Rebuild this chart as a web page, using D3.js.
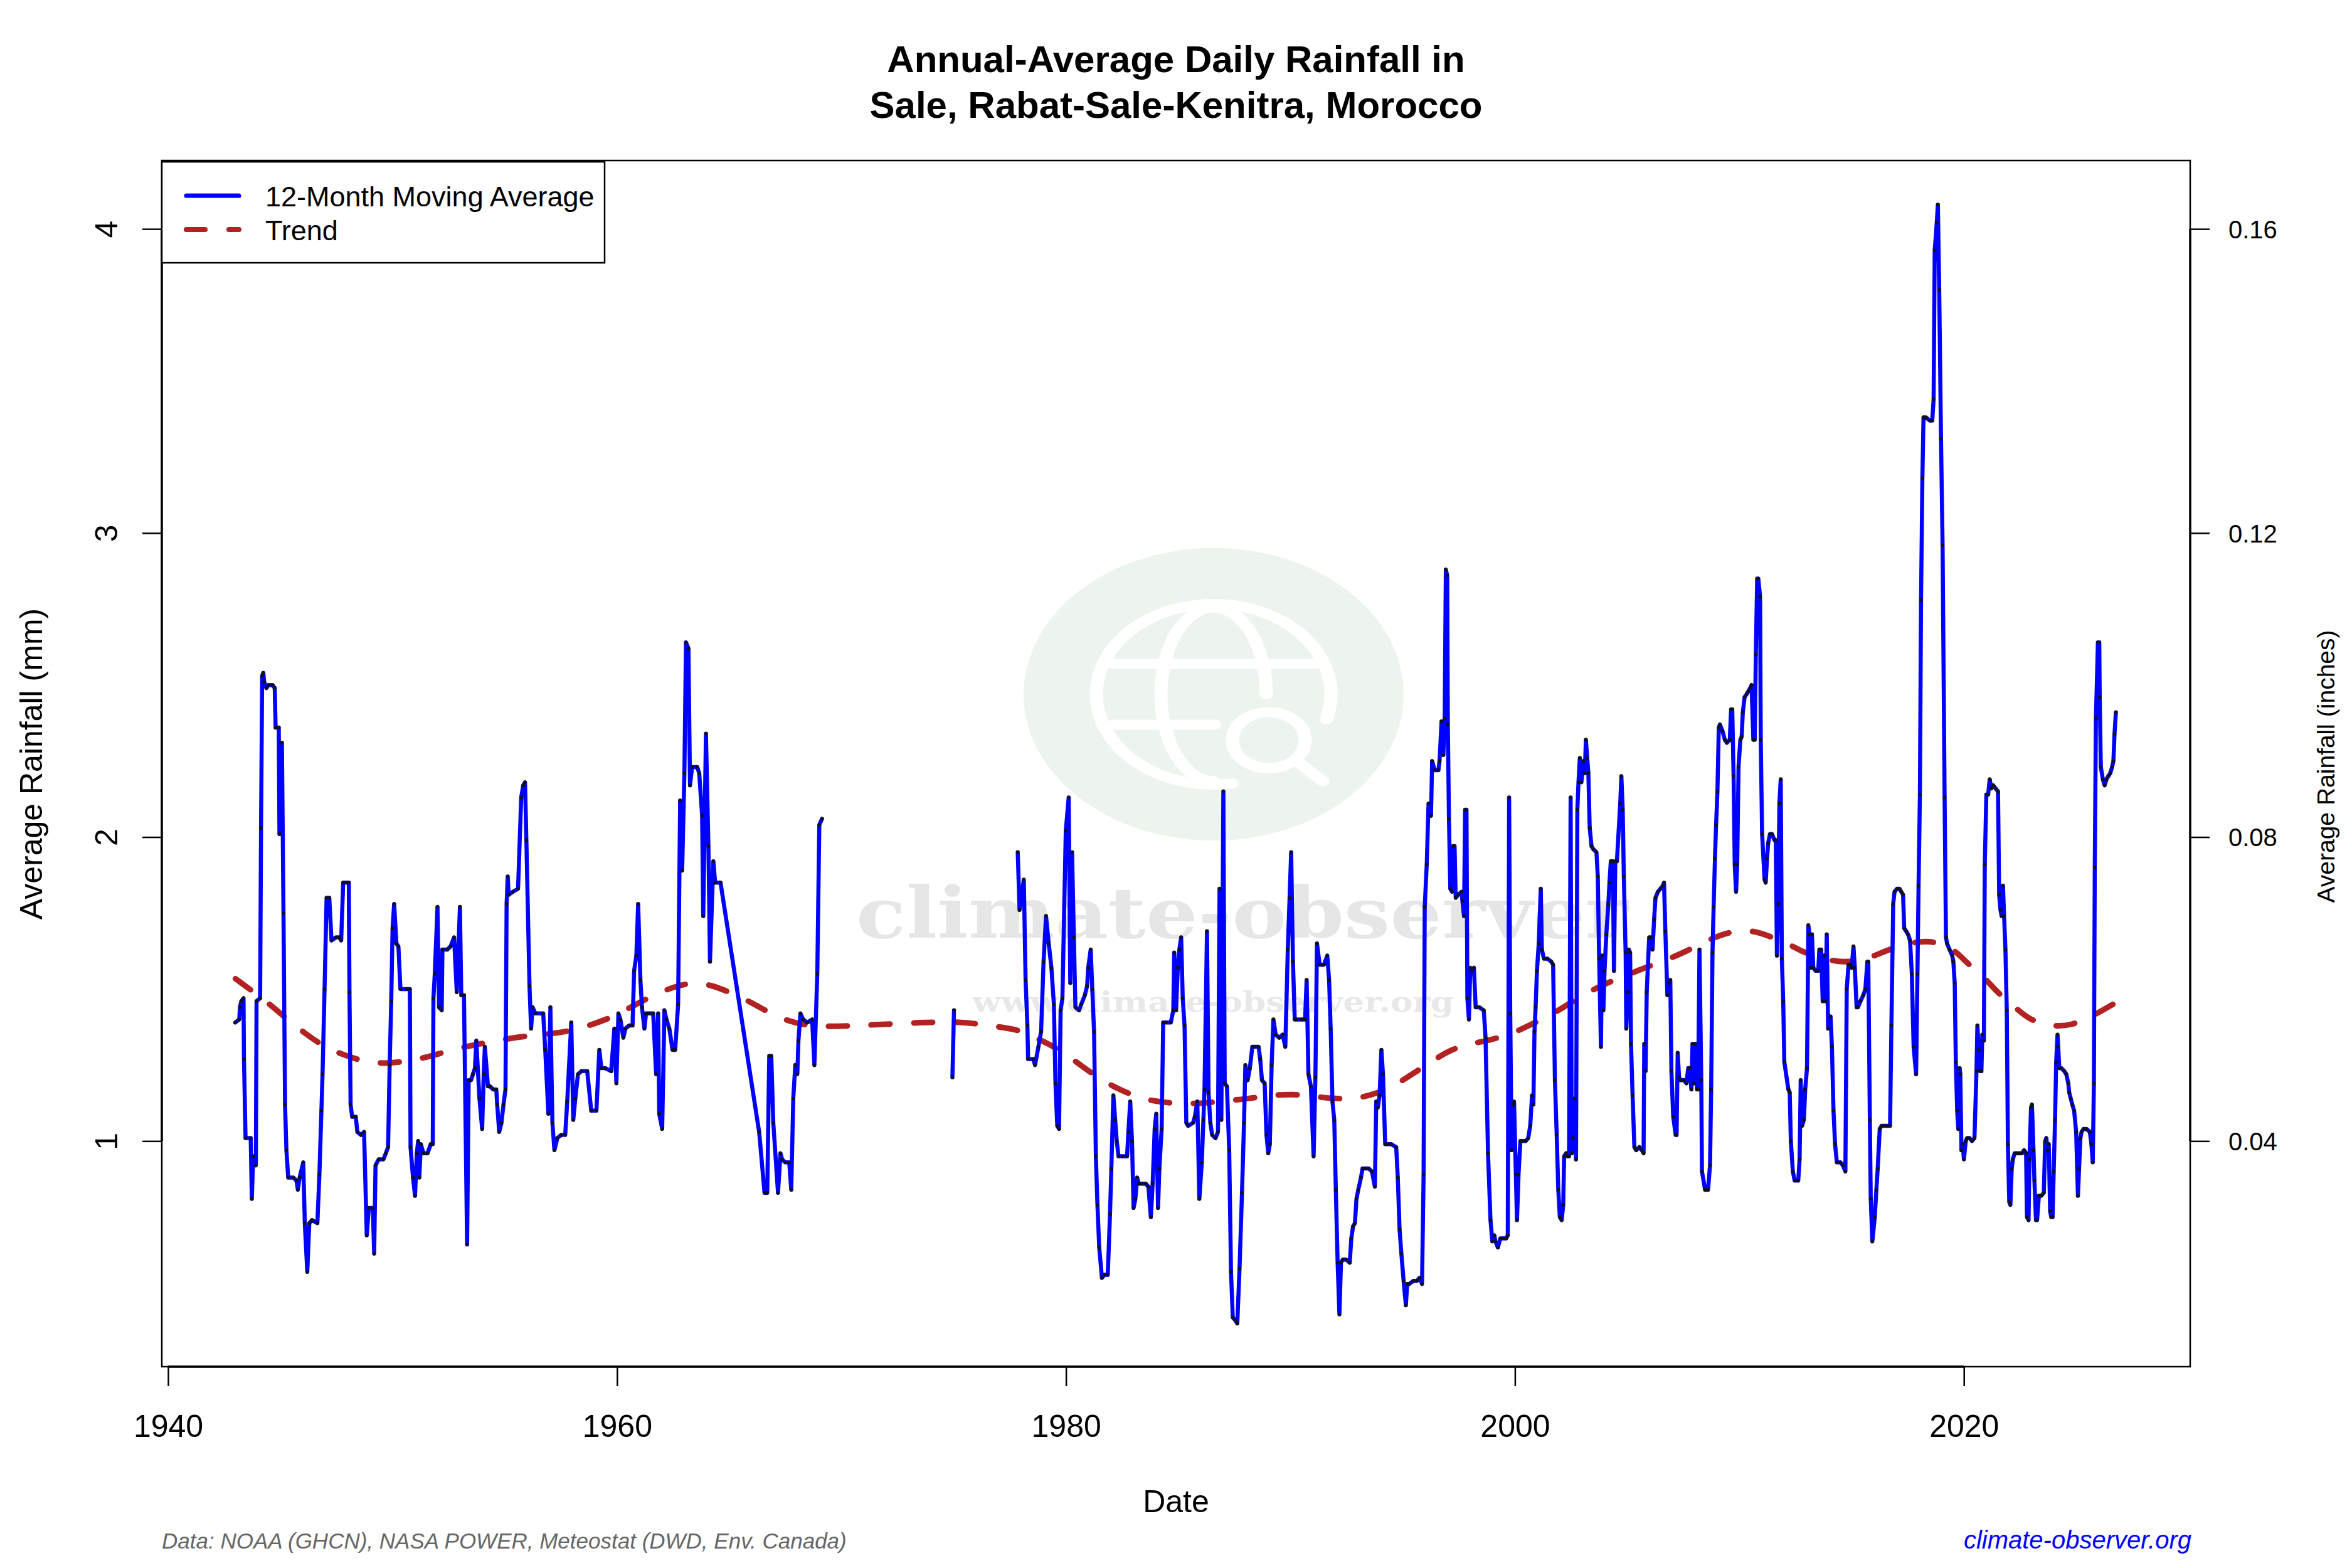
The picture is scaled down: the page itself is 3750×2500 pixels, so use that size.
<!DOCTYPE html>
<html><head><meta charset="utf-8">
<script src="https://cdn.jsdelivr.net/npm/d3@7"></script>
<style>html,body{margin:0;padding:0;background:#fff}svg{display:block}</style>
</head><body>
<svg id="chart" width="3750" height="2500"></svg>
<script>
// ---------- DATA (12-month moving average of daily rainfall, mm) ----------
const years1943 = [1942.99,1943.17,1943.20,1943.26,1943.36,1943.38,1943.45,1943.68,1943.73,1943.79,
1943.91,1943.94,1944.10,1944.14,1944.19,1944.24,1944.28,1944.38,1944.47,1944.65,
1944.75,1944.79,1944.93,1944.96,1945.02,1945.07,1945.14,1945.21,1945.27,1945.35,
1945.58,1945.72,1945.78,1945.86,1946.02,1946.09,1946.20,1946.29,1946.41,1946.65,
1946.74,1946.83,1946.88,1946.97,1947.06,1947.18,1947.28,1947.48,1947.62,1947.71,
1947.80,1947.94,1948.05,1948.08,1948.13,1948.20,1948.36,1948.43,1948.59,1948.73,
1948.85,1948.94,1949.12,1949.18,1949.24,1949.38,1949.59,1949.70,1949.80,1949.87,
1949.94,1950.00,1950.07,1950.17,1950.26,1950.35,1950.63,1950.77,1950.80,1950.91,
1951.00,1951.08,1951.14,1951.19,1951.26,1951.37,1951.56,1951.70,1951.79,1951.82,
1951.88,1952.00,1952.07,1952.19,1952.22,1952.44,1952.58,1952.74,1952.86,1953.00,
1953.06,1953.18,1953.32,1953.39,1953.49,1953.58,1953.67,1953.73,1953.87,1953.99,
1954.06,1954.11,1954.25,1954.34,1954.48,1954.62,1954.66,1954.75,1954.85,1954.94,
1955.03,1955.08,1955.13,1955.17,1955.36,1955.59,1955.73,1955.82,1955.90,1955.96,
1956.10,1956.17,1956.24,1956.36,1956.71,1956.80,1956.94,1957.03,1957.12,1957.21,
1957.34,1957.51,1957.69,1957.78,1957.96,1958.05,1958.14,1958.26,1958.41,1958.67,
1958.85,1959.08,1959.21,1959.30,1959.47,1959.74,1959.88,1959.97,1960.06,1960.15,
1960.28,1960.37,1960.54,1960.69,1960.76,1960.86,1960.94,1961.04,1961.11,1961.22,
1961.29,1961.43,1961.61,1961.74,1961.83,1961.88,1962.01,1962.11,1962.20,1962.33,
1962.47,1962.59,1962.72,1962.81,1962.90,1963.00,1963.07,1963.18,1963.25,1963.34,
1963.57,1963.66,1963.79,1963.84,1963.96,1964.07,1964.14,1964.29,1964.37,1964.61,
1966.33,1966.57,1966.69,1966.78,1966.87,1966.96,1967.17,1967.28,1967.35,1967.49,
1967.67,1967.76,1967.85,1967.94,1968.03,1968.08,1968.17,1968.29,1968.47,1968.69,
1968.79,1968.92,1969.01,1969.13];
const rain1943 = [1.39,1.40,1.44,1.46,1.47,1.27,1.01,1.01,0.81,0.95,
0.92,1.46,1.47,2.03,2.53,2.54,2.51,2.49,2.50,2.50,
2.49,2.36,2.36,2.01,2.31,2.31,1.75,1.12,0.97,0.88,
0.88,0.87,0.84,0.88,0.93,0.73,0.57,0.73,0.74,0.73,
0.89,1.10,1.22,1.50,1.80,1.80,1.66,1.67,1.67,1.66,
1.85,1.85,1.85,1.49,1.12,1.08,1.08,1.03,1.02,1.03,
0.69,0.78,0.78,0.63,0.92,0.94,0.94,0.96,0.98,1.25,
1.46,1.70,1.78,1.65,1.64,1.50,1.50,1.50,0.98,0.88,
0.82,0.96,1.00,0.88,0.99,0.96,0.96,0.99,0.99,1.47,
1.55,1.77,1.44,1.43,1.63,1.63,1.64,1.67,1.49,1.77,
1.48,1.48,0.66,1.20,1.20,1.22,1.24,1.33,1.14,1.04,
1.22,1.31,1.18,1.18,1.17,1.17,1.12,1.03,1.06,1.12,
1.17,1.78,1.87,1.81,1.82,1.83,2.13,2.17,2.18,1.99,
1.51,1.37,1.44,1.42,1.42,1.30,1.09,1.44,1.06,0.97,
1.01,1.02,1.02,1.13,1.39,1.07,1.14,1.22,1.23,1.23,
1.10,1.10,1.30,1.24,1.24,1.23,1.37,1.19,1.42,1.40,
1.34,1.37,1.38,1.38,1.56,1.61,1.78,1.53,1.44,1.37,
1.42,1.42,1.42,1.22,1.42,1.09,1.04,1.43,1.40,1.37,
1.30,1.30,1.45,2.12,1.89,2.21,2.64,2.62,2.17,2.23,
2.23,2.21,2.07,1.74,2.34,1.97,1.59,1.92,1.85,1.85,
1.03,0.83,0.83,1.28,1.28,1.06,0.83,0.96,0.94,0.93,
0.93,0.84,1.14,1.25,1.22,1.33,1.42,1.40,1.39,1.40,
1.25,1.55,2.04,2.06];

const years1975 = [1974.94,1975.01];
const rain1975 = [1.21,1.43];

const years1977 = [1977.85,1977.93,1978.12,1978.20,1978.28,1978.31,1978.54,1978.62,1978.77,1978.89,
1979.00,1979.11,1979.23,1979.35,1979.46,1979.53,1979.61,1979.69,1979.76,1979.84,
1979.99,1980.12,1980.19,1980.27,1980.35,1980.42,1980.58,1980.68,1980.84,1980.94,
1980.99,1981.10,1981.17,1981.25,1981.33,1981.40,1981.48,1981.60,1981.71,1981.86,
1981.96,1982.02,1982.11,1982.19,1982.26,1982.34,1982.52,1982.72,1982.78,1982.86,
1982.94,1983.01,1983.09,1983.17,1983.24,1983.37,1983.55,1983.67,1983.78,1983.86,
1983.95,1984.02,1984.10,1984.16,1984.26,1984.33,1984.44,1984.67,1984.78,1984.82,
1984.90,1984.98,1985.05,1985.13,1985.20,1985.28,1985.36,1985.44,1985.66,1985.74,
1985.85,1985.94,1986.05,1986.12,1986.17,1986.28,1986.35,1986.43,1986.51,1986.66,
1986.77,1986.84,1986.92,1987.01,1987.07,1987.17,1987.27,1987.35,1987.43,1987.55,
1987.63,1987.73,1987.84,1987.93,1987.99,1988.09,1988.19,1988.30,1988.42,1988.58,
1988.65,1988.73,1988.85,1988.93,1989.01,1989.08,1989.16,1989.24,1989.34,1989.50,
1989.65,1989.77,1989.88,1989.96];
const rain1977 = [1.95,1.76,1.86,1.53,1.38,1.27,1.27,1.25,1.31,1.36,
1.59,1.74,1.65,1.57,1.45,1.19,1.05,1.04,1.43,1.47,
2.02,2.13,1.52,1.95,1.67,1.44,1.43,1.45,1.48,1.51,
1.57,1.63,1.50,1.36,0.95,0.79,0.65,0.55,0.56,0.56,
0.76,0.91,1.15,1.07,1.00,0.95,0.95,0.95,1.03,1.13,
1.00,0.78,0.81,0.88,0.86,0.86,0.86,0.85,0.75,0.86,
1.04,1.09,0.78,0.91,1.04,1.39,1.39,1.39,1.43,1.62,
1.43,1.57,1.63,1.67,1.47,1.38,1.06,1.05,1.06,1.08,
1.13,0.81,0.93,1.07,1.17,1.69,1.16,1.06,1.02,1.01,
1.03,1.83,1.07,2.15,1.19,1.18,0.97,0.57,0.42,0.41,
0.40,0.58,0.83,1.06,1.25,1.20,1.24,1.31,1.31,1.31,
1.27,1.20,1.19,1.02,0.96,0.99,1.25,1.40,1.35,1.34,
1.35,1.31,1.63,1.80];

const years1990 = [1990.03,1990.11,1990.19,1990.26,1990.49,1990.65,1990.72,1990.80,1990.91,1991.03,
1991.11,1991.18,1991.30,1991.49,1991.64,1991.72,1991.79,1991.87,1991.95,1992.02,
1992.10,1992.18,1992.25,1992.33,1992.48,1992.64,1992.71,1992.79,1992.87,1992.94,
1993.02,1993.14,1993.21,1993.33,1993.48,1993.63,1993.76,1993.82,1993.89,1993.97,
1994.05,1994.12,1994.22,1994.32,1994.48,1994.71,1994.78,1994.86,1994.94,1995.04,
1995.14,1995.20,1995.29,1995.47,1995.63,1995.75,1995.86,1995.93,1995.98,1996.07,
1996.15,1996.26,1996.31,1996.42,1996.59,1996.64,1996.73,1996.81,1996.87,1996.92,
1996.98,1997.01,1997.06,1997.12,1997.20,1997.25,1997.31,1997.36,1997.47,1997.62,
1997.66,1997.73,1997.78,1997.84,1997.88,1997.95,1998.01,1998.08,1998.17,1998.25,
1998.41,1998.61,1998.69,1998.80,1998.91,1998.99,1999.08,1999.13,1999.24,1999.35,
1999.49,1999.61,1999.68,1999.74,1999.79,1999.85,1999.93,1999.96];
const rain1990 = [1.95,1.59,1.40,1.40,1.40,1.40,1.53,1.22,1.18,0.95,
1.21,1.65,1.58,1.58,1.61,1.53,1.37,1.13,1.07,0.84,
0.60,0.43,0.60,0.61,0.61,0.60,0.68,0.72,0.73,0.81,
0.84,0.88,0.91,0.91,0.91,0.90,0.85,1.13,1.11,1.15,
1.30,1.22,0.99,0.99,0.99,0.98,0.88,0.71,0.63,0.54,
0.46,0.53,0.53,0.54,0.54,0.55,0.53,0.89,1.77,1.91,
2.11,2.07,2.25,2.22,2.22,2.25,2.38,2.27,2.39,2.88,
2.86,2.37,2.06,1.83,1.82,1.97,1.97,1.80,1.81,1.82,
1.79,1.74,2.09,2.09,1.47,1.40,1.57,1.56,1.57,1.44,
1.44,1.43,1.34,0.96,0.74,0.67,0.69,0.67,0.65,0.68,
0.68,0.68,0.69,2.13,1.42,0.97,1.12,1.13];

const years2000 = [2000.04,2000.09,2000.16,2000.24,2000.35,2000.48,2000.59,2000.68,2000.76,2000.82,
2000.87,2000.92,2000.98,2001.06,2001.15,2001.20,2001.29,2001.45,2001.62,2001.70,
2001.78,2001.86,2001.93,2002.00,2002.08,2002.15,2002.19,2002.28,2002.33,2002.41,
2002.48,2002.53,2002.59,2002.66,2002.72,2002.78,2002.83,2002.89,2002.96,2003.05,
2003.11,2003.16,2003.22,2003.27,2003.33,2003.41,2003.49,2003.63,2003.69,2003.75,
2003.83,2003.88,2003.94,2003.99,2004.07,2004.16,2004.21,2004.27,2004.36,2004.41,
2004.47,2004.54,2004.69,2004.74,2004.80,2004.85,2004.93,2004.96,2005.02,2005.07,
2005.13,2005.17,2005.24,2005.32,2005.40,2005.54,2005.65,2005.73,2005.76,2005.82,
2005.87,2005.98,2006.06,2006.13,2006.20,2006.26,2006.37,2006.48,2006.59,2006.64,
2006.70,2006.79,2006.86,2006.92,2006.97,2007.05,2007.16,2007.20,2007.25,2007.31,
2007.38,2007.53,2007.64,2007.72,2007.78,2007.86,2007.91,2007.97,2008.03,2008.11,
2008.16,2008.22,2008.30,2008.33,2008.47,2008.60,2008.69,2008.74,2008.80,2008.85,
2008.91,2008.96,2009.02,2009.08,2009.13,2009.24,2009.35,2009.44,2009.57,2009.63,
2009.68,2009.74,2009.79,2009.85,2009.90,2009.96];
const rain2000 = [0.89,0.74,0.89,1.00,1.00,1.00,1.01,1.05,1.15,1.12,
1.36,1.44,1.56,1.65,1.83,1.63,1.60,1.60,1.59,1.58,
1.20,1.02,0.84,0.75,0.74,0.79,0.95,0.96,0.95,0.95,
2.13,0.96,1.01,1.14,0.94,2.09,2.18,2.26,2.18,2.25,
2.21,2.32,2.26,2.21,2.03,1.97,1.96,1.95,1.87,1.60,
1.31,1.61,1.43,1.56,1.68,1.78,1.85,1.92,1.92,1.56,
1.92,1.92,2.11,2.20,2.09,1.87,1.62,1.37,1.49,1.63,
1.62,1.32,1.15,0.98,0.97,0.98,0.97,0.96,1.32,1.23,
1.49,1.67,1.67,1.63,1.73,1.80,1.82,1.83,1.84,1.85,
1.69,1.48,1.52,1.53,1.23,1.08,1.02,1.02,1.29,1.21,
1.20,1.20,1.19,1.24,1.24,1.17,1.32,1.19,1.32,1.17,
1.17,1.63,1.20,0.90,0.84,0.84,0.92,1.17,1.62,1.77,
1.93,2.04,2.15,2.36,2.37,2.35,2.32,2.31,2.32,2.42,
2.42,2.20,1.91,1.82,1.91,2.23];

const years2010 = [2010.04,2010.10,2010.15,2010.23,2010.32,2010.40,2010.48,2010.54,2010.62,2010.68,
2010.73,2010.79,2010.84,2010.92,2010.95,2011.01,2011.12,2011.17,2011.23,2011.28,
2011.36,2011.45,2011.56,2011.62,2011.67,2011.73,2011.78,2011.84,2011.89,2011.95,
2012.00,2012.18,2012.24,2012.29,2012.38,2012.46,2012.62,2012.68,2012.73,2012.79,
2012.87,2012.93,2013.01,2013.07,2013.12,2013.18,2013.23,2013.29,2013.40,2013.51,
2013.56,2013.64,2013.71,2013.78,2013.84,2013.89,2013.95,2014.06,2014.12,2014.19,
2014.26,2014.34,2014.50,2014.61,2014.72,2014.78,2014.86,2014.94,2015.00,2015.08,
2015.14,2015.22,2015.28,2015.39,2015.52,2015.61,2015.70,2015.74,2015.81,2015.85,
2015.92,2016.03,2016.10,2016.16,2016.25,2016.33,2016.44,2016.60,2016.71,2016.77,
2016.85,2016.91,2017.02,2017.13,2017.21,2017.29,2017.34,2017.43,2017.51,2017.60,
2017.68,2017.76,2017.87,2017.93,2017.98,2018.04,2018.09,2018.15,2018.20,2018.31,
2018.48,2018.59,2018.65,2018.70,2018.79,2018.84,2018.90,2018.98,2019.05,2019.14,
2019.20,2019.25,2019.36,2019.48,2019.53,2019.59,2019.64,2019.70,2019.75,2019.81,
2019.84,2019.89,2019.95,2020.00,2020.08,2020.14,2020.25,2020.36,2020.47,2020.56,
2020.60,2020.66,2020.72,2020.78,2020.82,2020.89,2020.93,2021.00,2021.08,2021.15,
2021.22,2021.30,2021.41,2021.52,2021.57,2021.63,2021.68,2021.74,2021.79,2021.85,
2021.91,2021.96,2022.02,2022.07,2022.13,2022.18,2022.26,2022.35,2022.46,2022.59,
2022.68,2022.77,2022.81,2022.88,2022.92,2022.99,2023.03,2023.10,2023.14,2023.21,
2023.26,2023.34,2023.45,2023.56,2023.62,2023.67,2023.73,2023.78,2023.84,2023.89,
2023.95,2024.00,2024.06,2024.11,2024.17,2024.20,2024.25,2024.34,2024.47,2024.56,
2024.65,2024.69,2024.76,2024.83,2024.91,2025.00,2025.08,2025.13,2025.19,2025.24,
2025.33,2025.46,2025.61,2025.68,2025.74,2025.79,2025.83,2025.88,2025.97,2026.03,
2026.05,2026.10,2026.19,2026.27,2026.35,2026.43,2026.52,2026.60,2026.66,2026.71,
2026.77];
const rain2010 = [2.32,2.33,2.41,2.46,2.47,2.48,2.49,2.50,2.32,2.32,
2.60,2.85,2.85,2.79,2.32,2.01,1.86,1.85,1.93,1.98,
2.01,2.01,1.99,1.99,1.61,1.78,2.11,2.19,1.60,1.46,
1.26,1.17,1.16,1.00,0.90,0.87,0.87,0.94,1.20,1.05,
1.07,1.17,1.24,1.71,1.68,1.57,1.68,1.57,1.56,1.56,
1.63,1.63,1.46,1.61,1.46,1.68,1.37,1.41,1.31,1.10,
0.99,0.93,0.93,0.92,0.90,1.50,1.58,1.58,1.57,1.64,
1.57,1.44,1.44,1.46,1.48,1.50,1.59,1.59,1.07,0.81,
0.67,0.75,0.84,0.91,1.04,1.05,1.05,1.05,1.05,1.38,
1.78,1.82,1.83,1.83,1.82,1.81,1.70,1.69,1.68,1.66,
1.55,1.31,1.22,1.55,1.84,2.14,2.78,3.18,3.38,3.38,
3.37,3.37,3.44,3.93,4.02,4.08,3.80,3.31,2.96,2.13,
1.67,1.65,1.63,1.61,1.59,1.52,1.26,1.10,1.04,1.24,
1.22,0.97,0.99,0.94,1.00,1.01,1.01,1.00,1.01,1.23,
1.38,1.30,1.23,1.23,1.35,1.33,1.91,2.14,2.14,2.19,
2.16,2.17,2.16,2.15,1.81,1.76,1.74,1.84,1.74,1.63,
1.43,0.99,0.80,0.79,0.91,0.94,0.96,0.96,0.96,0.96,
0.97,0.96,0.75,0.74,0.94,1.11,1.12,0.97,0.87,0.74,
0.74,0.82,0.82,0.83,1.00,1.01,0.97,0.99,0.77,0.75,
0.75,0.90,1.07,1.26,1.35,1.31,1.24,1.24,1.23,1.22,
1.19,1.16,1.14,1.12,1.10,1.03,0.82,0.91,1.01,1.03,
1.04,1.04,1.03,0.99,0.93,1.19,1.90,2.39,2.64,2.64,
2.46,2.23,2.19,2.17,2.19,2.20,2.21,2.23,2.25,2.34,
2.41];

const trendYears = [1943.0,1943.8,1944.5,1945.3,1946.1,1946.9,1947.7,1948.7,1949.6,1950.6,1951.5,1952.5,1953.4,1954.3,1955.2,1956.3,1957.2,1958.1,1959.0,1959.8,1960.7,1961.6,1962.5,1963.4,1964.3,1965.2,1966.1,1967.0,1967.9,1968.7,1969.8,1973.9,1975.4,1976.5,1977.9,1978.3,1979.2,1980.0,1980.8,1981.6,1982.5,1983.4,1984.3,1985.2,1986.1,1987.0,1988.1,1989.0,1990.1,1991.0,1992.0,1992.9,1993.8,1994.7,1995.5,1996.3,1997.1,1998.0,1998.9,1999.9,2000.7,2001.7,2002.4,2003.3,2004.1,2005.0,2005.8,2006.8,2007.6,2008.5,2009.4,2010.4,2011.2,2012.2,2012.9,2014.0,2014.8,2015.8,2016.6,2017.7,2018.5,2019.5,2020.1,2020.9,2021.5,2022.3,2022.9,2024.0,2024.8,2025.7,2026.8];
const trendMm = [1.534,1.491,1.452,1.401,1.354,1.313,1.286,1.262,1.254,1.262,1.275,1.297,1.313,1.325,1.338,1.348,1.354,1.365,1.386,1.408,1.444,1.479,1.507,1.523,1.512,1.483,1.452,1.412,1.389,1.378,1.376,1.392,1.392,1.381,1.366,1.351,1.321,1.286,1.241,1.200,1.165,1.139,1.127,1.123,1.124,1.132,1.139,1.150,1.155,1.147,1.139,1.139,1.155,1.185,1.224,1.262,1.300,1.320,1.332,1.354,1.383,1.418,1.452,1.491,1.520,1.546,1.571,1.597,1.623,1.657,1.686,1.696,1.678,1.649,1.618,1.594,1.587,1.601,1.630,1.653,1.660,1.637,1.587,1.540,1.487,1.440,1.398,1.376,1.381,1.409,1.457];

const xTicks = [1940,1960,1980,2000,2020];
const yTicks = [1,2,3,4];

// ---------- LAYOUT ----------
const FONT = "'Liberation Sans', Arial, Helvetica, sans-serif";
const plot = {left:258, right:3492, top:256, bottom:2179};
const svg = d3.select("#chart");
svg.append("rect").attr("width",3750).attr("height",2500).attr("fill","#fff");

const x = d3.scaleLinear().domain([1939.72, 2030.08]).range([plot.left, plot.right]);
const y = d3.scaleLinear().domain([0.258, 4.225]).range([plot.bottom, plot.top]);

// ---------- WATERMARK ----------
const wm = svg.append("g").attr("transform","translate(1935,1107) scale(1,0.77)");
wm.append("circle").attr("r",303).attr("fill","#edf4ee");
const wst = g => g.attr("fill","none").attr("stroke","#fff").attr("stroke-width",21).attr("stroke-linecap","round");
const R = 187, a0 = 81*Math.PI/180, a1 = 376*Math.PI/180;
wm.append("path").attr("d",`M${R*Math.cos(a0)},${R*Math.sin(a0)} A${R},${R} 0 1 1 ${R*Math.cos(a1)},${R*Math.sin(a1)}`).call(wst);
wm.append("path").attr("d","M0,-180 A84,180 0 0 0 0,180").call(wst);
wm.append("path").attr("d","M0,-180 A84,180 0 0 1 84,0").call(wst);
wm.append("path").attr("d","M-160,-63 H160").call(wst);
wm.append("path").attr("d","M-160,63 H2").call(wst);
wm.append("circle").attr("cx",88).attr("cy",95).attr("r",58).call(wst);
wm.append("path").attr("d","M138,144 L174,180").call(wst);
svg.append("text").attr("x",1365).attr("y",1495).attr("text-anchor","start")
  .attr("font-family","'DejaVu Serif', serif").attr("font-weight","bold").attr("font-size",112)
  .attr("fill","#e6e6e6").attr("textLength",1231).attr("lengthAdjust","spacingAndGlyphs").text("climate-observer");
svg.append("text").attr("x",1934).attr("y",1613).attr("text-anchor","middle")
  .attr("font-family","'DejaVu Serif', serif").attr("font-weight","bold").attr("font-size",44)
  .attr("fill","#e8e8e8").attr("textLength",768).attr("lengthAdjust","spacingAndGlyphs").text("www.climate-observer.org");

// ---------- SERIES ----------
const mk = (ys, vs) => ys.map((t,i) => ({t, v: vs[i]}));
const seriesA = mk(years1943, rain1943);
const seriesB = mk(years1975, rain1975);
const seriesC = [].concat(mk(years1977, rain1977), mk(years1990, rain1990), mk(years2000, rain2000), mk(years2010, rain2010));
const trend = mk(trendYears, trendMm);

const line = d3.line().x(d => x(d.t)).y(d => y(d.v));
svg.append("path").datum(trend)
  .attr("d", d3.line().curve(d3.curveBasis).x(d => x(d.t)).y(d => y(d.v)))
  .attr("fill","none").attr("stroke","#B22222").attr("stroke-width",9)
  .attr("stroke-dasharray","30,38").attr("stroke-linecap","round");

[seriesA, seriesB, seriesC].forEach(s => {
  svg.append("path").datum(s).attr("d", line)
    .attr("fill","none").attr("stroke","#0000FF").attr("stroke-width",6.5)
    .attr("stroke-linejoin","round").attr("stroke-linecap","round");
});
const allPts = [].concat(seriesA, seriesB, seriesC);
svg.append("g").selectAll("circle").data(allPts).join("circle")
  .attr("cx", d => x(d.t)).attr("cy", d => y(d.v)).attr("r", 2.8).attr("fill","#111");

// ---------- AXES ----------
const gx = svg.append("g").attr("transform",`translate(0,${plot.bottom})`)
  .call(d3.axisBottom(x).tickValues(xTicks).tickSize(31).tickFormat(d3.format("d")));
gx.attr("font-family",FONT).attr("font-size",50);
gx.select(".domain").remove();
gx.selectAll(".tick line").attr("stroke","#000").attr("stroke-width",2.5);
gx.selectAll(".tick text").attr("y",112).attr("dy",0).attr("fill","#000");
gx.append("line").attr("x1",x(xTicks[0])).attr("x2",x(xTicks[xTicks.length-1])).attr("stroke","#000").attr("stroke-width",3.5);

const gyl = svg.append("g").attr("transform",`translate(${plot.left},0)`)
  .call(d3.axisLeft(y).tickValues(yTicks).tickSize(31).tickFormat(d3.format("d")));
gyl.attr("font-family",FONT).attr("font-size",50);
gyl.select(".domain").remove();
gyl.selectAll(".tick line").attr("stroke","#000").attr("stroke-width",2.5);
gyl.selectAll(".tick text").attr("x",0).attr("dy",0).attr("text-anchor","middle")
  .attr("transform","translate(-71,0) rotate(-90)").attr("fill","#000");
gyl.append("line").attr("y1",y(yTicks[0])).attr("y2",y(yTicks[yTicks.length-1])).attr("stroke","#000").attr("stroke-width",3.5);

const gyr = svg.append("g").attr("transform",`translate(${plot.right},0)`)
  .call(d3.axisRight(y).tickValues(yTicks).tickSize(31).tickPadding(30).tickFormat(d => (d/25.4).toFixed(2)));
gyr.attr("font-family",FONT).attr("font-size",40);
gyr.select(".domain").remove();
gyr.selectAll(".tick line").attr("stroke","#000").attr("stroke-width",2.5);
gyr.selectAll(".tick text").attr("fill","#000").attr("dy","0.36em");
gyr.append("line").attr("y1",y(yTicks[0])).attr("y2",y(yTicks[yTicks.length-1])).attr("stroke","#000").attr("stroke-width",3.5);

svg.append("rect").attr("x",plot.left).attr("y",plot.top)
  .attr("width",plot.right-plot.left).attr("height",plot.bottom-plot.top)
  .attr("fill","none").attr("stroke","#000").attr("stroke-width",2.5);

// ---------- TEXT ----------
const txt = (xx, yy, s, size, opts={}) => {
  const t = svg.append("text").attr("x",xx).attr("y",yy).attr("font-family",FONT).attr("font-size",size)
    .attr("text-anchor",opts.anchor||"middle").attr("fill",opts.fill||"#000").text(s);
  if (opts.weight) t.attr("font-weight",opts.weight);
  if (opts.style) t.attr("font-style",opts.style);
  if (opts.rotate) t.attr("transform",`rotate(${opts.rotate},${xx},${yy})`);
  return t;
};
txt(1875, 115, "Annual-Average Daily Rainfall in", 60, {weight:"bold"});
txt(1875, 188, "Sale, Rabat-Sale-Kenitra, Morocco", 60, {weight:"bold"});
txt(1875, 2411, "Date", 50);
txt(67, 1218, "Average Rainfall (mm)", 50, {rotate:-90});
txt(3722, 1222, "Average Rainfall (inches)", 39, {rotate:-90});
txt(258, 2469, "Data: NOAA (GHCN), NASA POWER, Meteostat (DWD, Env. Canada)", 35, {anchor:"start", fill:"#666666", style:"italic"});
txt(3494, 2469, "climate-observer.org", 40, {anchor:"end", fill:"#0000FF", style:"italic"});

// ---------- LEGEND ----------
const lg = svg.append("g");
lg.append("rect").attr("x",258).attr("y",258).attr("width",706).attr("height",161)
  .attr("fill","#fff").attr("stroke","#000").attr("stroke-width",2.5);
lg.append("line").attr("x1",297).attr("x2",381).attr("y1",312).attr("y2",312)
  .attr("stroke","#0000FF").attr("stroke-width",7).attr("stroke-linecap","round");
lg.append("line").attr("x1",297).attr("x2",381).attr("y1",366).attr("y2",366)
  .attr("stroke","#B22222").attr("stroke-width",8).attr("stroke-dasharray","30,38").attr("stroke-linecap","round");
txt(423, 329, "12-Month Moving Average", 45, {anchor:"start"});
txt(423, 383, "Trend", 45, {anchor:"start"});
</script>
</body></html>
